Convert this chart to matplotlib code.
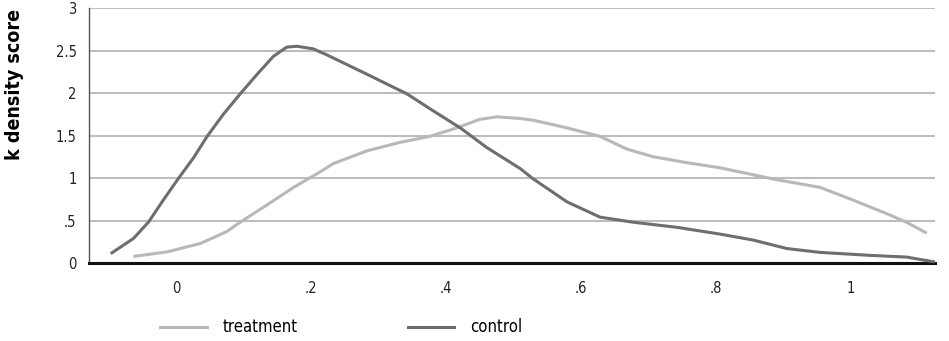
import matplotlib.pyplot as plt

# k density estimates
treat_x = [-0.061, -0.014, 0.036, 0.075, 0.095, 0.134, 0.174, 0.213, 0.233, 0.283,
           0.332, 0.376, 0.416, 0.450, 0.475, 0.510, 0.529, 0.579, 0.628, 0.668,
           0.707, 0.757, 0.806, 0.890, 0.954, 1.003, 1.053, 1.082, 1.110]
treat_y = [0.08, 0.13, 0.23, 0.37, 0.48, 0.68, 0.89, 1.07, 1.17, 1.32,
           1.42, 1.49, 1.59, 1.69, 1.72, 1.70, 1.68, 1.59, 1.49, 1.34,
           1.25, 1.18, 1.12, 0.98, 0.89, 0.74, 0.58, 0.48, 0.36]

ctrl_x = [-0.095, -0.063, -0.041, -0.019, 0.003, 0.026, 0.046, 0.070, 0.095, 0.120,
          0.144, 0.164, 0.179, 0.203, 0.223, 0.283, 0.342, 0.381, 0.421, 0.460,
          0.510, 0.529, 0.579, 0.628, 0.677, 0.742, 0.806, 0.855, 0.905, 0.954,
          1.028, 1.082, 1.122]
ctrl_y = [0.12, 0.29, 0.48, 0.74, 0.99, 1.24, 1.49, 1.75, 1.99, 2.22,
          2.43, 2.54, 2.55, 2.52, 2.45, 2.22, 1.99, 1.79, 1.59, 1.36,
          1.11, 0.99, 0.72, 0.54, 0.48, 0.42, 0.34, 0.27, 0.17, 0.125,
          0.09, 0.07, 0.015]

xticks = [0, 0.2, 0.4, 0.6, 0.8, 1]
xlabels = ['0', '.2', '.4', '.6', '.8', '1']
yticks = [0, 0.5, 1, 1.5, 2, 2.5, 3]
ylabels = ['0', '.5', '1', '1.5', '2', '2.5', '3']

plt.rcParams['font.family'] = ['DejaVu Sans']
plt.rcParams['font.stretch'] = 'condensed'

fig = plt.figure(figsize=(9.49, 3.41), dpi=100)
ax = fig.add_axes([0.0938, 0.2287, 0.8912, 0.7478])

for y in yticks:
    ax.axhline(y, color='#bdbdbd', lw=1.5, zorder=1)

ax.plot(treat_x, treat_y, color='#b8b8b8', lw=2.2, label='treatment', zorder=3)
ax.plot(ctrl_x, ctrl_y, color='#6e6e6e', lw=2.2, label='control', zorder=3)

ax.set_xlim(-0.129, 1.124)
ax.set_ylim(0, 3)
ax.set_xticks(xticks)
ax.set_xticklabels(xlabels)
ax.set_yticks(yticks)
ax.set_yticklabels(ylabels)
ax.tick_params(length=0, labelsize=10.5, colors='#222222', pad=13)
ax.tick_params(axis='y', pad=9)

for s in ['top', 'right']:
    ax.spines[s].set_visible(False)
ax.spines['left'].set_color('#555555')
ax.spines['left'].set_linewidth(1.0)
ax.spines['bottom'].set_color('#111111')
ax.spines['bottom'].set_linewidth(2.2)

ax.set_ylabel('k density score', fontsize=14, fontweight='bold', color='black')
ax.yaxis.set_label_coords(-0.077, 0.70)

fig.legend(loc='center left', bbox_to_anchor=(0.153, 0.04), ncol=2, frameon=False,
           fontsize=12, handlelength=2.8, handletextpad=0.95, columnspacing=6.6)

fig.savefig('out.png', dpi=100)
